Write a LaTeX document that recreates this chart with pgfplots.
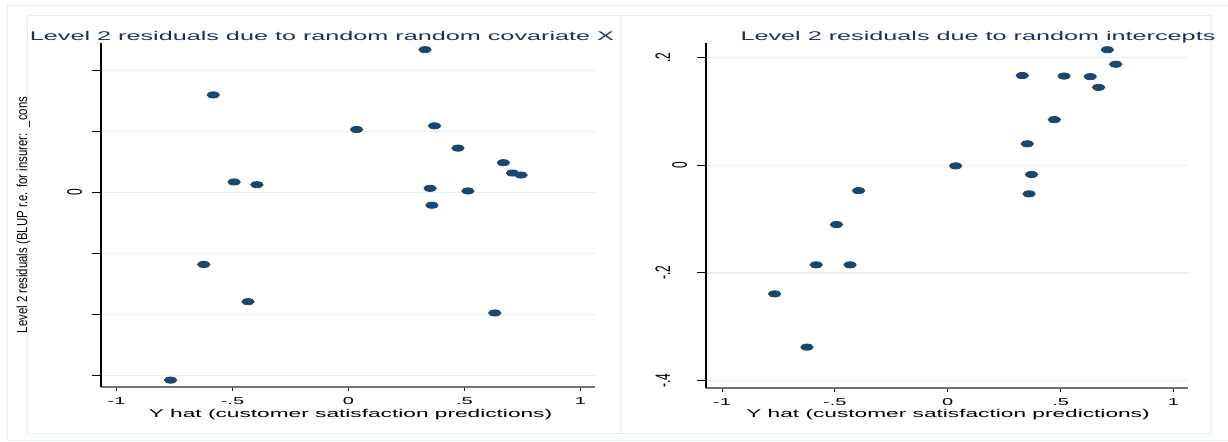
\documentclass[border=0pt]{standalone}
\usepackage{pgfplots}
\pgfplotsset{compat=1.18}
\usepackage{pgfplotstable}
\usepackage{fontspec}
\setmainfont{Liberation Sans}[FakeStretch=2]
\newfontfamily\rotfont{Liberation Sans}[FakeStretch=0.57]
\newfontfamily\ylabfont{Liberation Sans}[FakeStretch=0.78]

\definecolor{statanavy}{RGB}{26,71,111}
\definecolor{titlenavy}{RGB}{30,48,92}
\definecolor{framegray}{RGB}{228,236,238}
\definecolor{gridgray}{RGB}{232,240,241}

% Level 2 residuals from the random-slope model
\pgfplotstableread{
yhat   resid
 0.330  0.2337
-0.583  0.1596
 0.035  0.1029
 0.371  0.1089
 0.472  0.0724
 0.668  0.0485
 0.707  0.0316
 0.744  0.0283
-0.493  0.0169
-0.395  0.0125
 0.352  0.0065
 0.515  0.0022
 0.360 -0.0212
-0.624 -0.1182
-0.433 -0.1792
 0.631 -0.1977
-0.767 -0.3077
}\covtable

% Level 2 residuals from the random-intercept model
\pgfplotstableread{
yhat   resid
 0.330  0.167
-0.583 -0.185
 0.035 -0.001
 0.371 -0.017
 0.472  0.085
 0.668  0.145
 0.707  0.215
 0.744  0.188
-0.493 -0.110
-0.395 -0.047
 0.352  0.040
 0.515  0.166
 0.360 -0.053
-0.624 -0.338
-0.433 -0.185
 0.631  0.165
-0.767 -0.239
}\inttable

\pgfplotsset{
  stataplot/.style={
    scale only axis,
    anchor=south west,
    axis x line*=bottom,
    axis y line*=left,
    x axis line style={black!55, line width=0.8pt},
    y axis line style={black, line width=0.7pt},
    tick align=outside,
    tick style={black, line width=0.5pt},
    xtick style={/pgfplots/major tick length=2.2pt},
    ytick style={/pgfplots/major tick length=4.5pt},
    xtick={-1,-0.5,0,0.5,1},
    xticklabels={-1,-.5,0,.5,1},
    xticklabel style={font=\fontsize{5}{6}\selectfont, inner sep=1pt},
    yticklabel style={xshift=-5pt, rotate=90, anchor=south, inner sep=0pt,
      font=\rotfont\fontsize{10.5}{11}\selectfont},
    ymajorgrids,
    grid style={gridgray, line width=0.6pt},
    clip=false,
  },
  statamark/.style={only marks, mark=*, mark size=1.55pt,
    mark options={xscale=2, fill=statanavy, draw=statanavy}},
}

\begin{document}
\begin{tikzpicture}
\path[use as bounding box] (0,0) rectangle (614pt,220.5pt);

% graph region frames
\draw[framegray, line width=0.5pt] (3.5pt,0.5pt) rectangle (614pt,218pt);
\draw[framegray, line width=0.5pt] (13.5pt,4pt) rectangle (310pt,213pt);
\draw[framegray, line width=0.5pt] (310pt,4pt) rectangle (605.5pt,213pt);

% left panel: random covariate
\begin{axis}[stataplot,
  at={(50.5pt,27pt)}, width=247pt, height=172pt,
  xmin=-1.067, xmax=1.063, ymin=-0.319, ymax=0.2446,
  ytick={-0.3,-0.2,-0.1,0,0.1,0.2},
  yticklabels={,,,0,,},
]
\addplot[statamark] table[x=yhat, y=resid] {\covtable};
\end{axis}

% right panel: random intercepts
\begin{axis}[stataplot,
  at={(353pt,26.5pt)}, width=241pt, height=172.5pt,
  xmin=-1.071, xmax=1.064, ymin=-0.414, ymax=0.2275,
  ytick={-0.4,-0.2,0,0.2},
  yticklabels={\raisebox{8.5pt}{-.4},\raisebox{8.5pt}{-.2},0,\raisebox{8.5pt}{.2}},
]
\addplot[statamark] table[x=yhat, y=resid] {\inttable};
\end{axis}

% titles
\node[anchor=base, text=titlenavy, font=\fontsize{6.3}{7}\selectfont]
  at (161pt,200.2pt) {Level 2 residuals due to random random covariate X};
\node[anchor=base, text=titlenavy, font=\fontsize{6.3}{7}\selectfont]
  at (489pt,200.5pt) {Level 2 residuals due to random intercepts};

% axis titles
\node[anchor=base, font=\fontsize{5.67}{6.5}\selectfont] at (175.25pt,12pt)
  {Y hat (customer satisfaction predictions)};
\node[anchor=base, font=\fontsize{5.67}{6.5}\selectfont] at (474pt,12pt)
  {Y hat (customer satisfaction predictions)};
\node[anchor=base, rotate=90, font=\ylabfont\fontsize{7.3}{8}\selectfont] at (13.6pt,113pt)
  {Level 2 residuals (BLUP r.e. for insurer:\ \ \_cons};
\end{tikzpicture}
\end{document}
